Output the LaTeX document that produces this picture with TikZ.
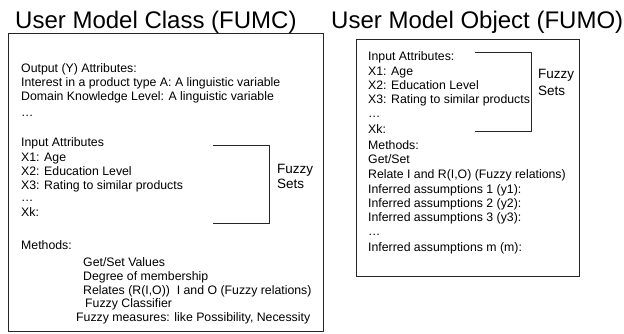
\documentclass[tikz,border=0pt]{standalone}
\usepackage{fontspec}
\setmainfont{Liberation Sans}
\begin{document}
\begin{tikzpicture}[x=1pt,y=-1pt,
  txt/.style={anchor=base west, inner sep=0pt, font=\fontsize{12.3}{14}\selectfont},
  ttl/.style={anchor=base west, inner sep=0pt, font=\fontsize{24}{28}\selectfont},
  fz/.style={anchor=base west, inner sep=0pt, font=\fontsize{13.5}{16}\selectfont},
  frame/.style={draw=black!85, line width=0.8pt, anchor=north west, inner sep=0pt},
  brk/.style={draw=black!85, line width=0.8pt}]
\useasboundingbox[fill=white] (0,0) rectangle (624,333);

% titles
\node[ttl] (t1) at (15,28) {User Model Class (FUMC)};
\node[ttl] (t2) at (331,28) {User Model Object (FUMO)};

% frames
\node[frame, minimum width=315pt, minimum height=298pt] (fumc) at (8,33) {};
\node[frame, minimum width=223pt, minimum height=237pt] (fumo) at (356,39) {};

% left box text
\node[txt] (l1) at (21,72) {Output (Y) Attributes:};
\node[txt] (l2) at (21,86) {Interest in a product type A: A linguistic variable};
\node[txt] (l3) at (21,100) {Domain Knowledge Level: A linguistic variable};
\node[txt] (l4) at (21,116) {\ldots};
\node[txt] (l5) at (21,146) {Input Attributes};
\node[txt] (l6) at (21,161) {X1: Age};
\node[txt] (l7) at (21,175) {X2: Education Level};
\node[txt] (l8) at (21,189) {X3: Rating to similar products};
\node[txt] (l9) at (21,201) {\ldots};
\node[txt] (l10) at (21,216) {Xk:};
\node[txt] (l11) at (21,249) {Methods:};
\node[txt] (l12) at (83,266) {Get/Set Values};
\node[txt] (l13) at (83,280) {Degree of membership};
\node[txt] (l14) at (83,294) {Relates (R(I,O))\ \ I and O (Fuzzy relations)};
\node[txt] (l15) at (85,307) {Fuzzy Classifier};
\node[txt] (l16) at (76,321) {Fuzzy measures: like Possibility, Necessity};

% left bracket
\coordinate (lb1) at (213,145);
\coordinate (lb2) at (213,223);
\draw[brk] (lb1) -- ++(56,0) |- (lb2);
\node[fz] (lf1) at (277,173) {Fuzzy};
\node[fz] (lf2) at (277,188) {Sets};

% right box text
\node[txt] (r1) at (368,60) {Input Attributes:};
\node[txt] (r2) at (368,75) {X1: Age};
\node[txt] (r3) at (368,89) {X2: Education Level};
\node[txt] (r4) at (368,103.5) {X3: Rating to similar products};
\node[txt] (r5) at (368,117) {\ldots};
\node[txt] (r6) at (368,133) {Xk:};
\node[txt] (r7) at (368,149) {Methods:};
\node[txt] (r8) at (368,163) {Get/Set};
\node[txt] (r9) at (368,178) {Relate I and R(I,O) (Fuzzy relations)};
\node[txt] (r10) at (368,193) {Inferred assumptions 1 (y1):};
\node[txt] (r11) at (368,207) {Inferred assumptions 2 (y2):};
\node[txt] (r12) at (368,221) {Inferred assumptions 3 (y3):};
\node[txt] (r13) at (368,235) {\ldots};
\node[txt] (r14) at (368,251) {Inferred assumptions m (m):};

% right bracket
\coordinate (rb1) at (475,52);
\coordinate (rb2) at (475,131);
\draw[brk] (rb1) -- ++(56,0) |- (rb2);
\node[fz] (rf1) at (538,78) {Fuzzy};
\node[fz] (rf2) at (538,95) {Sets};
\end{tikzpicture}
\end{document}
